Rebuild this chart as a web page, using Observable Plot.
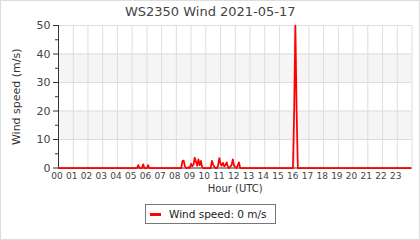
<!DOCTYPE html>
<html><head><meta charset="utf-8">
<script src="https://cdn.jsdelivr.net/npm/d3@7"></script>
<script src="https://cdn.jsdelivr.net/npm/@observablehq/plot@0.6"></script>
<style>
html,body{margin:0;padding:0;background:#fff;}
#wrap{position:relative;width:420px;height:240px;overflow:hidden;font-family:"DejaVu Sans",sans-serif;}
#wrap svg{position:absolute;left:0;top:0;}
#frame{position:absolute;left:0;top:0;width:420px;height:240px;box-sizing:border-box;border:1px solid #ddd;pointer-events:none;}
#legend{position:absolute;left:145px;top:204px;width:131px;height:20px;box-sizing:border-box;border:1px solid #777;display:flex;align-items:center;font-size:10.5px;color:#222;background:#fff;}
#legend .sw{display:inline-block;width:11px;height:3px;background:#f00;margin-left:4px;margin-right:8px;}
</style></head><body>
<div id="wrap"><div id="frame"></div><div id="legend"><span class="sw"></span><span id="legtext"></span></div></div>
<script>
const title = "WS2350 Wind 2021-05-17";
const yLabel = "Wind speed (m/s)";
const xLabel = "Hour (UTC)";
const legendLabel = "Wind speed: 0 m/s";
const hourLabels = ["00","01","02","03","04","05","06","07","08","09","10","11","12","13","14","15","16","17","18","19","20","21","22","23"];
const yTicks = [0, 10, 20, 30, 40, 50];
const yMinorTicks = [5, 15, 25, 35, 45];
const shadedBands = [[10, 20], [30, 40]];
const stepMinutes = 5;
// wind speed (m/s), one row per hour, 5-minute readings
const speed = [
  0,0,0,0,0,0,0,0,0,0,0,0,
  0,0,0,0,0,0,0,0,0,0,0,0,
  0,0,0,0,0,0,0,0,0,0,0,0,
  0,0,0,0,0,0,0,0,0,0,0,0,
  0,0,0,0,0,0,0,0,0,0,0,0,
  0,0,0,0,0,1.0,0,0,0,1.3,0,0,
  0,1.0,0,0,0,0,0,0,0,0,0,0,
  0,0,0,0,0,0,0,0,0,0,0,0,
  0,0,0,0,0,2.4,2.6,0.6,0,0,0.3,0,
  1.5,0.6,1.2,3.6,2.2,0.8,3.0,1.0,2.5,0.3,0,0,
  0,0,0,0,0,2.5,1.2,0.4,0,0,0.8,3.5,
  1.5,0.8,1.8,0.6,1.0,2.0,0.4,0,0.5,1.0,3.0,0.8,
  0.3,0,0.8,2.0,0,0,0,0,0,0,0,0,
  0,0,0,0,0,0,0,0,0,0,0,0,
  0,0,0,0,0,0,0,0,0,0,0,0,
  0,0,0,0,0,0,0,0,0,0,0,0,
  20,110,20,0,0,0,0,0,0,0,0,0,
  0,0,0,0,0,0,0,0,0,0,0,0,
  0,0,0,0,0,0,0,0,0,0,0,0,
  0,0,0,0,0,0,0,0,0,0,0,0,
  0,0,0,0,0,0,0,0,0,0,0,0,
  0,0,0,0,0,0,0,0,0,0,0,0,
  0,0,0,0,0,0,0,0,0,0,0,0,
  0,0,0,0,0,0,0,0,0,0,0,0
];

const data = speed.map((v, i) => ({t: i * stepMinutes / 60, v}));
const hours = hourLabels.map((_, i) => i);
const gridHours = [...hours, hours.length];

const plot = Plot.plot({
  width: 420, height: 240,
  marginTop: 25, marginBottom: 72.5, marginLeft: 58, marginRight: 8.5,
  style: {fontFamily: "DejaVu Sans", background: "transparent", color: "#444", overflow: "visible"},
  x: {domain: [0, 24], axis: null},
  y: {domain: [0, 50], axis: null, clamp: true},
  marks: [
    Plot.rect(shadedBands, {y1: d => d[0], y2: d => d[1], fill: "#f5f5f5"}),
    Plot.gridX(gridHours, {stroke: "#dddddd", strokeOpacity: 1}),
    Plot.gridY(yTicks.slice(1), {stroke: "#dddddd", strokeOpacity: 1}),
    Plot.axisX(hours, {tickFormat: d => hourLabels[d], tickSize: 0, tickPadding: 5, fontSize: 9, fill: "#444", label: null, dx: -1.5}),
    Plot.axisY(yTicks, {tickSize: 5, tickPadding: 3, fontSize: 11, fill: "#444", stroke: "#333", label: null}),
    Plot.axisY(yMinorTicks, {tickSize: 3, tickFormat: () => "", stroke: "#333", label: null}),
    Plot.ruleX([0], {stroke: "#333"}),
    Plot.ruleY([0], {stroke: "#333"}),
    Plot.line(data, {x: "t", y: "v", stroke: "#ff0000", strokeWidth: 1.75}),
    Plot.text([title], {frameAnchor: "top", dy: -14, dx: -25, fontSize: 13, fill: "#444", textAnchor: "middle", lineAnchor: "middle"}),
    Plot.text([xLabel], {frameAnchor: "bottom", dy: 20.5, fontSize: 10, fill: "#333", textAnchor: "middle", lineAnchor: "middle"}),
    Plot.text([yLabel], {frameAnchor: "left", dx: -42, rotate: -90, fontSize: 11, fill: "#333", textAnchor: "middle", lineAnchor: "middle"})
  ]
});
const wrap = document.getElementById("wrap");
wrap.insertBefore(plot, wrap.firstChild);
document.getElementById("legtext").textContent = legendLabel;
</script>
</body></html>
